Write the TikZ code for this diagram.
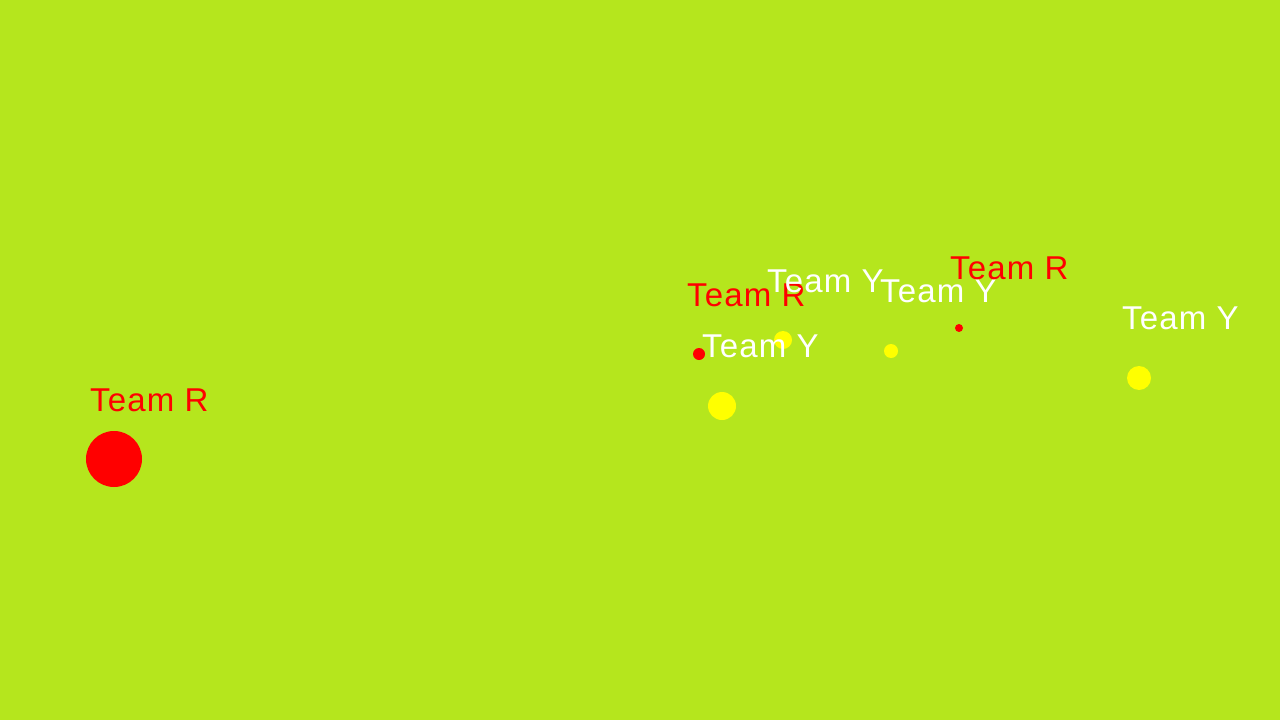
\documentclass[tikz,border=0pt]{standalone}
\usepackage{fontspec}
\setmainfont{Liberation Sans}[LetterSpace=3.5]
\definecolor{bg}{RGB}{181,230,29}
\definecolor{tr}{RGB}{255,0,0}
\definecolor{ty}{RGB}{255,255,0}
\begin{document}
\begin{tikzpicture}[x=1pt,y=-1pt,
  lbl/.style={anchor=base west,inner sep=0pt,font=\fontsize{33}{33}\selectfont},
  red/.style={lbl,text=tr},
  wht/.style={lbl,text=white},
  rdot/.style={circle,fill=tr,inner sep=0pt,minimum size=#1},
  ydot/.style={circle,fill=ty,inner sep=0pt,minimum size=#1}]
\fill[bg] (0,0) rectangle (1280,720);
\useasboundingbox (0,0) rectangle (1280,720);
% circles
\node[rdot=56pt] (c1) at (114,459) {};
\node[rdot=12pt] (c2) at (699,354) {};
\node[ydot=18pt] (c3) at (783,340) {};
\node[ydot=28pt] (c4) at (722,406) {};
\node[ydot=14pt] (c5) at (891,351) {};
\node[rdot=8pt]  (c6) at (959,328) {};
\node[ydot=24pt] (c7) at (1139,378) {};
% labels
\node[red] (l1) at (90,411) {Team R};
\node[red] (l2) at (687,306) {Team R};
\node[wht] (l3) at (767,292) {Team Y};
\node[wht] (l4) at (880,302) {Team Y};
\node[red] (l5) at (950,279) {Team R};
\node[wht] (l6) at (702,357) {Team Y};
\node[wht] (l7) at (1122,329) {Team Y};
\end{tikzpicture}
\end{document}
